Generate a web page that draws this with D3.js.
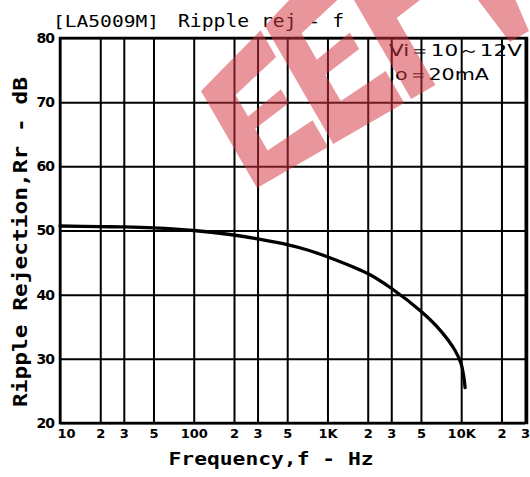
<!DOCTYPE html>
<html>
<head>
<meta charset="utf-8">
<script src="https://cdn.jsdelivr.net/npm/d3@7"></script>
<style>
  body { margin: 0; background: #fff; }
  svg { display: block; }
</style>
</head>
<body>
<div id="chart"></div>
<script>
// ripple rejection vs frequency
const freqs = [10, 20, 30, 50, 100, 200, 300, 500, 700, 1000, 2000, 3000, 5000, 7000, 9000, 10000, 10400, 10700];
const rejection = [50.7, 50.6, 50.55, 50.4, 50.0, 49.3, 48.7, 47.8, 47.0, 45.9, 43.3, 41.0, 37.4, 34.4, 31.3, 29.2, 27.5, 25.5];

const xTickVals = [10, 20, 30, 50, 100, 200, 300, 500, 1000, 2000, 3000, 5000, 10000, 20000, 30000];
const xTickLabels = ["10", "2", "3", "5", "100", "2", "3", "5", "1K", "2", "3", "5", "10K", "2", "3"];
const yTickVals = [20, 30, 40, 50, 60, 70, 80];

const width = 530, height = 477;
const plotL = 60, plotR = 525, plotT = 38, plotB = 423;

const svg = d3.select("#chart").append("svg")
  .attr("width", width).attr("height", height);

const x = d3.scaleLog().domain([10, 30000]).range([plotL, plotR]);
const y = d3.scaleLinear().domain([20, 80]).range([plotB, plotT]);

const tickFont = "DejaVu Sans, sans-serif";
const monoFont = "DejaVu Sans Mono, monospace";

// vertical grid + x labels
const gx = svg.append("g")
  .attr("transform", "translate(0," + plotB + ")")
  .call(d3.axisBottom(x).tickValues(xTickVals)
    .tickFormat((d, i) => xTickLabels[i])
    .tickSize(-(plotB - plotT)).tickPadding(6));
gx.select(".domain").remove();
gx.selectAll("line").attr("stroke", "#000").attr("stroke-width", 2);
gx.selectAll("text")
  .attr("fill", "#000")
  .style("font-family", tickFont)
  .style("font-weight", "bold")
  .style("font-size", "13px")
  .attr("dx", (d, i) => i === 0 ? 6 : 0);

// horizontal grid + y labels
const gy = svg.append("g")
  .attr("transform", "translate(" + plotL + ",0)")
  .call(d3.axisLeft(y).tickValues(yTickVals)
    .tickSize(-(plotR - plotL)).tickPadding(6));
gy.select(".domain").remove();
gy.selectAll("line").attr("stroke", "#000").attr("stroke-width", 2);
gy.selectAll("text")
  .attr("fill", "#000")
  .style("font-family", tickFont)
  .style("font-weight", "bold")
  .style("font-size", "14px")
  .style("letter-spacing", "-1px");

// frame
svg.append("rect")
  .attr("x", plotL).attr("y", plotT)
  .attr("width", plotR + 2 - plotL).attr("height", plotB - plotT)
  .attr("fill", "none").attr("stroke", "#000").attr("stroke-width", 2.5);

// curve
const line = d3.line()
  .x((d, i) => x(freqs[i]))
  .y(d => y(d))
  .curve(d3.curveCatmullRom.alpha(0.5));

svg.append("path")
  .datum(rejection)
  .attr("d", line)
  .attr("fill", "none")
  .attr("stroke", "#000")
  .attr("stroke-width", 3.3)
  .attr("stroke-linecap", "round");

// title
svg.append("text")
  .attr("x", 53).attr("y", 27)
  .attr("textLength", 106).attr("lengthAdjust", "spacingAndGlyphs")
  .style("font-family", monoFont).style("font-size", "16px")
  .text("[LA5009M]");
svg.append("text")
  .attr("x", 178).attr("y", 27)
  .attr("textLength", 166).attr("lengthAdjust", "spacingAndGlyphs")
  .style("font-family", monoFont).style("font-size", "18px")
  .text("Ripple rej - f");

// conditions
svg.append("text")
  .attr("x", 389).attr("y", 56)
  .attr("textLength", 133).attr("lengthAdjust", "spacingAndGlyphs")
  .style("font-family", tickFont).style("font-size", "16px")
  .text("Vi＝10～12V");
svg.append("text")
  .attr("x", 389).attr("y", 80)
  .attr("textLength", 100).attr("lengthAdjust", "spacingAndGlyphs")
  .style("font-family", tickFont).style("font-size", "16px")
  .text("Io＝20mA");

// axis titles
svg.append("text")
  .attr("x", 271).attr("y", 465)
  .attr("text-anchor", "middle")
  .attr("textLength", 205).attr("lengthAdjust", "spacingAndGlyphs")
  .style("font-family", monoFont).style("font-weight", "bold").style("font-size", "18px")
  .text("Frequency,f - Hz");
svg.append("text")
  .attr("transform", "translate(27,242) rotate(-90)")
  .attr("text-anchor", "middle")
  .attr("textLength", 330).attr("lengthAdjust", "spacingAndGlyphs")
  .style("font-family", monoFont).style("font-weight", "bold").style("font-size", "19px")
  .text("Ripple Rejection,Rr - dB");

// red watermark (EEPW logo, tilted)
function wm(px, f) {
  const H = 112 + 0.3 * Math.max(0, px - 6);
  const ly = -f * H;
  return [257 + 0.866 * px + 0.5 * ly, 188 - 0.5 * px + 0.866 * ly];
}
const letterE = x0 => [[x0, 0], [x0 + 82, 0], [x0 + 82, 0.23], [x0 + 28, 0.23], [x0 + 28, 0.44], [x0 + 70, 0.44],
  [x0 + 70, 0.56], [x0 + 28, 0.56], [x0 + 28, 0.77], [x0 + 82, 0.77], [x0 + 82, 1], [x0, 1]];
const letterP = x0 => [[x0, 0], [x0 + 28, 0], [x0 + 28, 0.45], [x0 + 84, 0.45], [x0 + 84, 1], [x0, 1]];
const holeP = x0 => [[x0 + 28, 0.62], [x0 + 58, 0.62], [x0 + 58, 0.84], [x0 + 28, 0.84]];
const letterW = x0 => [[x0, 1], [x0 + 22, 1], [x0 + 36, 0.35], [x0 + 50, 0.8], [x0 + 66, 0.8], [x0 + 80, 0.35],
  [x0 + 92, 1], [x0 + 114, 1], [x0 + 92, 0], [x0 + 70, 0], [x0 + 58, 0.5], [x0 + 46, 0], [x0 + 24, 0]];
const shapes = [letterE(0), letterE(88), letterP(178), holeP(178), letterW(268)];
const toPath = pts => "M" + pts.map(p => wm(p[0], p[1]).join(",")).join("L") + "Z";
svg.append("path")
  .attr("d", shapes.map(toPath).join(" "))
  .attr("fill-rule", "evenodd")
  .attr("fill", "rgb(211,53,63)")
  .attr("fill-opacity", 0.52);
</script>
</body>
</html>
